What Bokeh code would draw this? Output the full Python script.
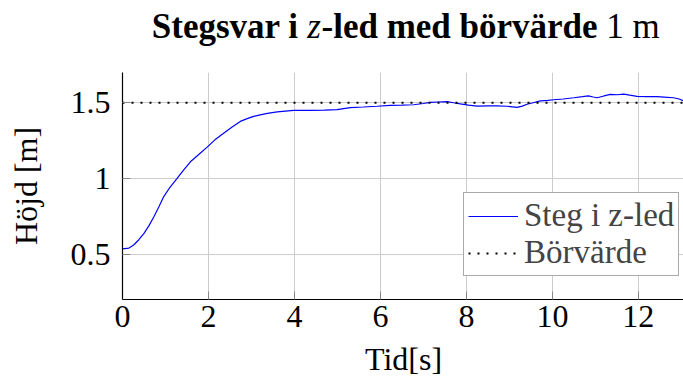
from bokeh.plotting import figure
from bokeh.models import Range1d, FixedTicker, Legend, LegendItem
from bokeh.layouts import column
from bokeh.core.properties import value
from bokeh.embed import file_html
from bokeh.resources import INLINE

# ---- data ----
time_s = [0, 0.15, 0.26, 0.38, 0.5, 0.62, 0.73, 0.85, 0.96, 1.1, 1.27, 1.42, 1.58,
          1.78, 1.97, 2.15, 2.36, 2.55, 2.74, 2.9, 3.05, 3.2, 3.37, 3.6, 3.98, 4.37,
          4.7, 4.99, 5.3, 5.6, 5.92, 6.23, 6.5, 6.77, 7.0, 7.16, 7.35, 7.55, 7.7,
          7.86, 8.05, 8.25, 8.5, 8.71, 8.95, 9.18, 9.3, 9.41, 9.55, 9.72, 9.9, 10.03,
          10.25, 10.5, 10.7, 10.84, 10.95, 11.04, 11.2, 11.35, 11.5, 11.66, 11.8,
          11.97, 12.2, 12.43, 12.6, 12.82, 12.95, 13.05]
height_m = [0.535, 0.54, 0.56, 0.595, 0.637, 0.69, 0.747, 0.815, 0.88, 0.94, 1.0,
            1.055, 1.11, 1.16, 1.207, 1.255, 1.30, 1.34, 1.377, 1.395, 1.41, 1.42,
            1.43, 1.44, 1.45, 1.45, 1.452, 1.455, 1.468, 1.472, 1.477, 1.483, 1.484,
            1.487, 1.495, 1.502, 1.505, 1.507, 1.50, 1.493, 1.485, 1.478, 1.48, 1.48,
            1.477, 1.47, 1.478, 1.49, 1.50, 1.513, 1.516, 1.52, 1.525, 1.533, 1.54,
            1.546, 1.538, 1.533, 1.545, 1.555, 1.553, 1.557, 1.55, 1.542, 1.541,
            1.54, 1.537, 1.533, 1.525, 1.513]
setpoint_t = [0, 13.05]
setpoint_y = [1.5, 1.5]
x_ticks = [0, 2, 4, 6, 8, 10, 12]
y_ticks = [0.5, 1, 1.5]
y_tick_labels = ["0.5", "1", "1.5"]
series_labels = ["Steg i z-led", "Börvärde"]
x_label = "Tid[s]"
y_label = "Höjd [m]"
title_parts = ["Stegsvar i ", "z", "-led med börvärde ", "1 m"]

FONT = "Liberation Serif"
FRAME_L, FRAME_R = 122, 683   # pixel span shared by all strips (column aligns frames)


def strip(height, top, bottom):
    f = figure(width=683, height=height, output_backend="svg", toolbar_location=None,
               x_range=Range1d(FRAME_L, FRAME_R), y_range=Range1d(bottom, top),
               x_axis_type=None, y_axis_type=None, min_border=0)
    f.outline_line_color = None
    f.background_fill_color = "white"
    f.border_fill_color = "white"
    f.xgrid.visible = False
    f.ygrid.visible = False
    return f


# ---- title strip (mixed bold / italic / regular pieces) ----
t = strip(72, 0, 72)
title_styles = ["bold", "italic", "bold", "normal"]
title_x = [151.3, 306.8, 321.0, 605.7]
for txt, style, xs in zip(title_parts, title_styles, title_x):
    t.text(x=[xs], y=[26], text=[txt], text_font=value(FONT),
           text_font_size="35px", text_font_style=style, text_color="black",
           text_baseline="alphabetic", text_align="left")

# ---- main plot ----
p = figure(width=683, height=270, output_backend="svg", toolbar_location=None,
           x_range=Range1d(0, 13.05), y_range=Range1d(0.2, 1.7),
           min_border_left=122, min_border_right=0, min_border_top=0,
           min_border_bottom=43)
p.outline_line_color = None
p.background_fill_color = "white"
p.border_fill_color = "white"

r1 = p.line(time_s, height_m, line_color="#0000ff", line_width=1.2)
r2 = p.line(setpoint_t, setpoint_y, line_color="black", line_width=1.8,
            line_dash="2 7")

for ax in (p.xaxis[0], p.yaxis[0]):
    ax.axis_line_color = "black"
    ax.axis_line_width = 1.2
    ax.major_tick_in = 8
    ax.major_tick_out = 0
    ax.major_tick_line_color = "#888888"
    ax.minor_tick_line_color = None
    ax.major_label_text_font = FONT
    ax.major_label_text_font_size = "32px"
    ax.major_label_text_color = "black"
    ax.axis_label_text_font = FONT
    ax.axis_label_text_font_size = "32px"
    ax.axis_label_text_font_style = "normal"
    ax.axis_label_text_color = "black"

p.xaxis.ticker = FixedTicker(ticks=x_ticks)
p.yaxis.ticker = FixedTicker(ticks=y_ticks)
p.yaxis.major_label_overrides = {tk: lb for tk, lb in zip(y_ticks, y_tick_labels)}
p.yaxis.axis_label = y_label
p.xaxis.major_label_standoff = 6
p.yaxis.major_label_standoff = 12
p.yaxis.axis_label_standoff = 24

p.xgrid.grid_line_color = "#cccccc"
p.ygrid.grid_line_color = "#cccccc"

legend = Legend(items=[LegendItem(label=series_labels[0], renderers=[r1]),
                       LegendItem(label=series_labels[1], renderers=[r2])],
                location=(341, 23), padding=4, spacing=0, margin=0,
                glyph_width=50, glyph_height=20, label_standoff=6,
                label_text_font=FONT, label_text_font_size="33px",
                border_line_color="#555555", border_line_width=1,
                background_fill_color="white", background_fill_alpha=1)
p.add_layout(legend)

# ---- x-axis label strip ----
b = strip(37, 342, 379)
b.text(x=[403], y=[358], text=[x_label], text_font=value(FONT),
       text_font_size="32px", text_color="black",
       text_baseline="alphabetic", text_align="center")

layout = column(t, p, b, spacing=0)
open("out.html", "w").write(file_html(layout, INLINE))
